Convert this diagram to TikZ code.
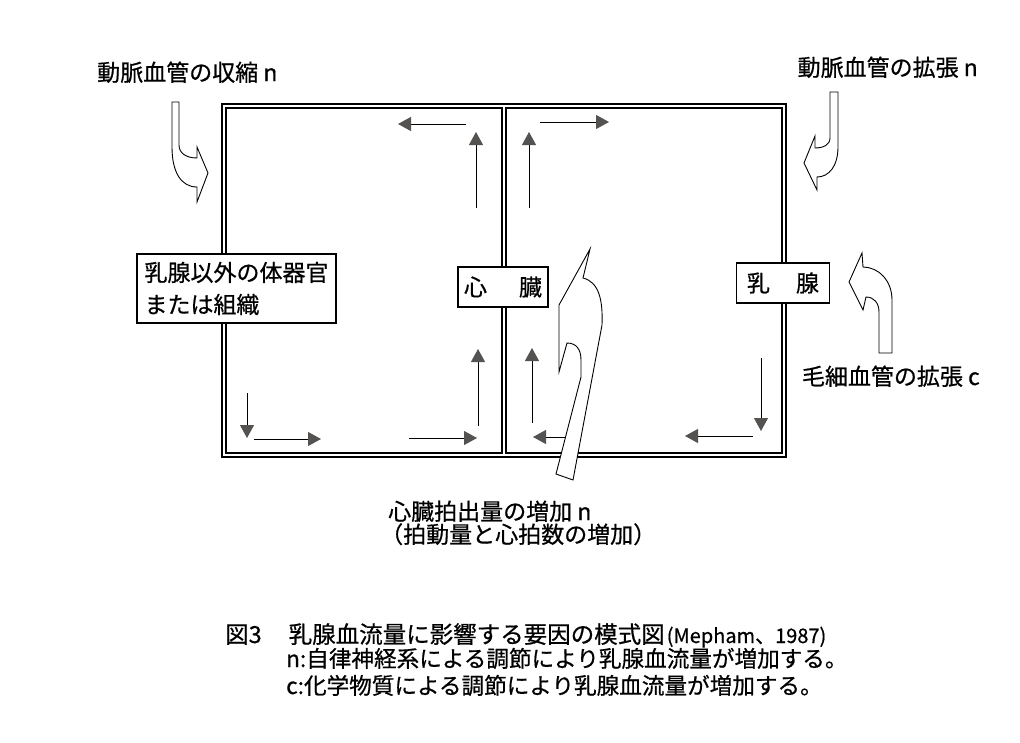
\documentclass[tikz,border=0pt]{standalone}
\usepackage{fontspec}
\setmainfont{Noto Sans CJK JP}[FakeBold=0.6]
\usetikzlibrary{arrows.meta,positioning}
\definecolor{headgray}{RGB}{85,82,82}
\tikzset{
  frame/.style={line width=1.3pt},
  flow/.style={line width=1pt,-{Triangle[length=13pt,width=14pt,color=headgray]}},
  organ/.style={draw,line width=1.1pt,fill=white,minimum height=40pt,inner sep=0pt,font=\fontsize{23}{32}\selectfont},
  bigarrow/.style={draw,line width=0.9pt,fill=white,line join=miter},
  lbl/.style={font=\fontsize{23}{28}\selectfont,inner sep=0pt},
  captext/.style={font=\fontsize{22.6}{26}\selectfont,inner sep=0pt}
}
\begin{document}
\begin{tikzpicture}[x=1pt,y=-1pt]
  \fill[white] (0,0) rectangle (1020,742);
  \useasboundingbox (0,0) rectangle (1020,742);
  % double frame, two halves
  \draw[frame] (222,104) rectangle (786,457);
  \draw[frame] (226,108) rectangle (502,453);
  \draw[frame] (506,108) rectangle (782,453);
  % blood flow
  \foreach \a/\b in {{466,124}/{398,124},{476,208}/{476,132},{529,208}/{529,132},{540,122}/{609,122},
                     {247,393}/{247,438},{254,439}/{321,439},{409,438}/{477,438},{478,426}/{478,349},
                     {532,423}/{532,348},{570,437}/{533,437},{761,358}/{761,431},{753,436}/{685,436}}
    \draw[flow] (\a) -- (\b);
  % organs
  \node[organ,minimum width=199pt,minimum height=69pt,align=left] (other) at (236.5,288.5) {乳腺以外の体器官\\または組織};
  \node[organ,minimum width=90pt] (heart) at (503,287) {心\hspace{32pt}臓};
  \node[organ,minimum width=93pt] (gland) at (783,283) {乳\hspace{26pt}腺};
  % hollow arrows
  \draw[bigarrow] (172,102) -- (172,147) .. controls (172,172) and (181,187) .. (197,187)
    -- (197,202) -- (208,173) -- (197,147) -- (197,158) .. controls (186,158) and (179,153) .. (179,145)
    -- (179,102) -- cycle;
  \draw[bigarrow] (830,92) -- (838,92) -- (838,147) .. controls (838,166) and (829,177) .. (817,177)
    -- (817,190) -- (804,163) -- (815,136) -- (815,148) .. controls (823,148) and (830,145) .. (830,138)
    -- cycle;
  \draw[bigarrow] (879,353) -- (892,353) -- (892,300) .. controls (892,280) and (878,267) .. (863,267)
    -- (862,253) -- (849,282) -- (863,310) -- (866,297) .. controls (874,297) and (879,303) .. (879,312)
    -- cycle;
  \draw[bigarrow] (590,249) -- (559,305) -- (559,372) -- (567,343) .. controls (576,343) and (581,349) .. (581,360)
    -- (581,377) -- (556,474) -- (573,480) -- (602,325) .. controls (603,300) and (599,282) .. (583,278)
    -- cycle;
  % labels
  \node[lbl,anchor=base west] (contract) at (97,81) {動脈血管の収縮 n};
  \node[lbl,anchor=base east] (dilate) at (978,76) {動脈血管の拡張 n};
  \node[lbl,anchor=base east] (capillary) at (980,385) {毛細血管の拡張 c};
  \node[lbl,anchor=base west] (output) at (388,520) {心臓拍出量の増加 n};
  \node[lbl,anchor=base west] (outputsub) at (380,543) {（拍動量と心拍数の増加）};
  % caption
  \node[lbl,anchor=base west,font=\fontsize{23.5}{28}\selectfont] (captitle) at (225,643) {図3\hspace{27pt}乳腺血流量に影響する要因の模式図\hspace{2pt}{\fontsize{20}{22}\selectfont(Mepham、1987)}};
  \node[captext,anchor=base west] (capn) at (286,667) {n:自律神経系による調節により乳腺血流量が増加する。};
  \node[captext,anchor=base west] (capc) at (286,694) {c:化学物質による調節により乳腺血流量が増加する。};
\end{tikzpicture}
\end{document}
